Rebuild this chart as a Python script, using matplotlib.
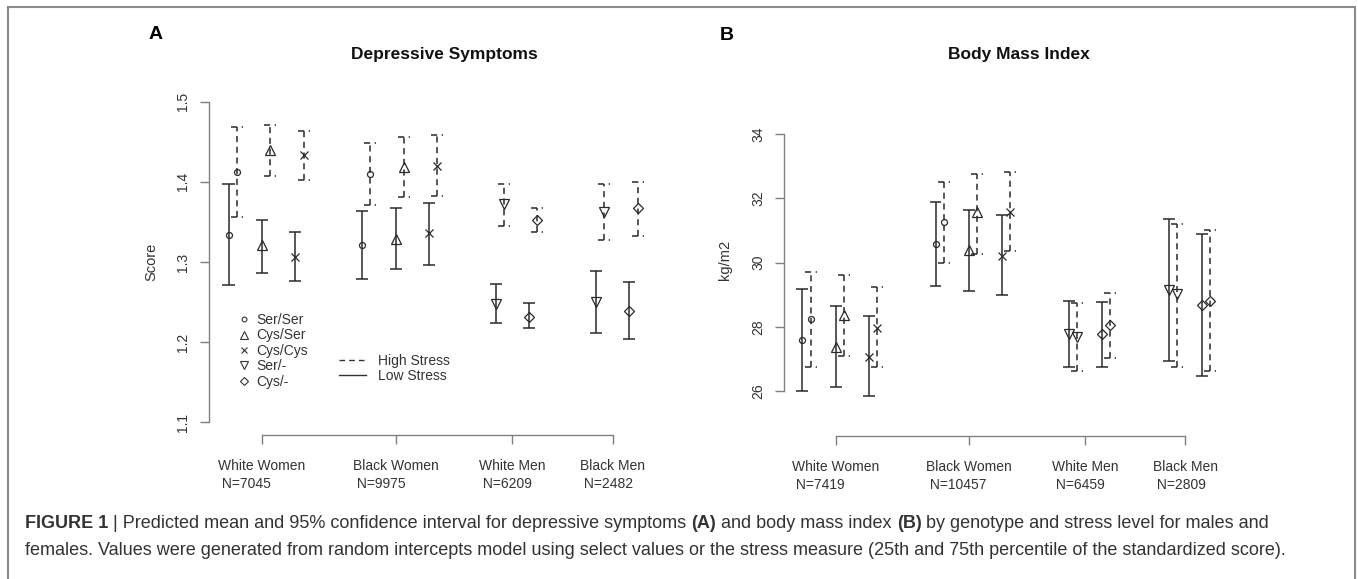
import matplotlib

matplotlib.use("Agg")

import matplotlib.pyplot as plt
from matplotlib.lines import Line2D
from matplotlib.patches import Rectangle

plt.rcParams["font.family"] = ["Liberation Sans", "DejaVu Sans"]

# ---------------------------------------------------------------------------
# Daten
# ---------------------------------------------------------------------------
GROUPS = ["White Women", "Black Women", "White Men", "Black Men"]
N_DEP = ["N=7045", "N=9975", "N=6209", "N=2482"]
N_BMI = ["N=7419", "N=10457", "N=6459", "N=2809"]
GROUP_TICKS = [2, 6, 9.5, 12.5]

GENOTYPES = ["Ser/Ser", "Cys/Ser", "Cys/Cys", "Ser/-", "Cys/-"]
BAR_GENO = ["Ser/Ser", "Cys/Ser", "Cys/Cys", "Ser/Ser", "Cys/Ser", "Cys/Cys",
            "Ser/-", "Cys/-", "Ser/-", "Cys/-"]
BAR_POS = [1, 2, 3, 5, 6, 7, 9, 10, 12, 13]

DEP_LOW_MEAN = [1.334, 1.321, 1.307, 1.321, 1.329, 1.336, 1.248, 1.232, 1.250, 1.239]
DEP_LOW_LO = [1.271, 1.287, 1.277, 1.279, 1.291, 1.297, 1.224, 1.218, 1.212, 1.204]
DEP_LOW_HI = [1.398, 1.353, 1.338, 1.364, 1.367, 1.374, 1.273, 1.249, 1.289, 1.275]
DEP_HIGH_MEAN = [1.412, 1.440, 1.433, 1.410, 1.419, 1.420, 1.372, 1.352, 1.362, 1.367]
DEP_HIGH_LO = [1.356, 1.408, 1.403, 1.371, 1.381, 1.382, 1.345, 1.338, 1.327, 1.333]
DEP_HIGH_HI = [1.468, 1.471, 1.463, 1.449, 1.456, 1.459, 1.398, 1.368, 1.397, 1.400]
DEP_YTICKS = [1.1, 1.2, 1.3, 1.4, 1.5]

BMI_LOW_MEAN = [27.60, 27.39, 27.08, 30.58, 30.40, 30.21, 27.78, 27.79, 29.16, 28.69]
BMI_LOW_LO = [26.02, 26.12, 25.84, 29.26, 29.13, 28.98, 26.74, 26.77, 26.93, 26.48]
BMI_LOW_HI = [29.18, 28.66, 28.35, 31.88, 31.64, 31.48, 28.81, 28.79, 31.36, 30.89]
BMI_HIGH_MEAN = [28.24, 28.38, 27.98, 31.25, 31.56, 31.57, 27.69, 28.05, 29.02, 28.81]
BMI_HIGH_LO = [26.77, 27.10, 26.75, 29.98, 30.27, 30.35, 26.62, 27.03, 26.77, 26.62]
BMI_HIGH_HI = [29.70, 29.62, 29.24, 32.52, 32.76, 32.83, 28.74, 29.07, 31.20, 31.02]
BMI_YTICKS = [26, 28, 30, 32, 34]

# ---------------------------------------------------------------------------
# Stil
# ---------------------------------------------------------------------------
W, H = 1358, 579
MARKERS = {"Ser/Ser": "o", "Cys/Ser": "^", "Cys/Cys": "x", "Ser/-": "v", "Cys/-": "D"}
MSIZE = {"o": 4.3, "^": 6.8, "x": 5.2, "v": 6.8, "D": 5.3}
HIGH_SHIFT = 0.25
CAP = 0.18
DASH = (0, (4, 3))
BAR_COLOR = "#2a2a2a"
AXIS_COLOR = "#808080"
TEXT_COLOR = "#333333"
FS = 10


def draw_panel(ax, low, high, yticks, ylim, xlim, groups, ns, ylabel, label_xy):
    for mean, lo, hi, shift, ls in ((*low, 0.0, "-"), (*high, HIGH_SHIFT, DASH)):
        for i, pos in enumerate(BAR_POS):
            x = pos + shift
            ax.vlines(x, lo[i], hi[i], colors=BAR_COLOR, linestyles=ls, lw=1.1)
            ax.hlines([lo[i], hi[i]], x - CAP, x + CAP, colors=BAR_COLOR,
                      linestyles=ls, lw=1.1)
            m = MARKERS[BAR_GENO[i]]
            ax.plot(x, mean[i], marker=m, ms=MSIZE[m], mfc="none", mec=BAR_COLOR,
                    mew=0.9, ls="none")

    ax.set_xlim(*xlim)
    ax.set_ylim(*ylim)
    for side in ("top", "right"):
        ax.spines[side].set_visible(False)
    for side in ("left", "bottom"):
        ax.spines[side].set_color(AXIS_COLOR)
        ax.spines[side].set_linewidth(1.0)
    ax.spines["left"].set_bounds(yticks[0], yticks[-1])
    ax.spines["bottom"].set_bounds(GROUP_TICKS[0], GROUP_TICKS[-1])

    ax.set_xticks(GROUP_TICKS)
    ax.set_xticklabels([f"{g}\n {n}" for g, n in zip(groups, ns)],
                       multialignment="left", linespacing=1.35)
    ax.set_yticks(yticks)
    ax.set_yticklabels([f"{t:g}" for t in yticks], rotation=90, va="center")
    ax.tick_params(axis="both", colors=AXIS_COLOR, labelcolor=TEXT_COLOR,
                   labelsize=FS, length=6.5, width=1.0, direction="out")
    ax.tick_params(axis="x", pad=11)
    ax.tick_params(axis="y", pad=7)
    ax.set_ylabel(ylabel, fontsize=10.5, color=TEXT_COLOR)
    ax.yaxis.set_label_coords(*label_xy)


fig = plt.figure(figsize=(W / 100, H / 100), dpi=100)
fig.patch.set_facecolor("white")

ax_a = fig.add_axes([208.5 / W, (H - 435) / H, 444.2 / W, 349.3 / H])
draw_panel(ax_a,
           (DEP_LOW_MEAN, DEP_LOW_LO, DEP_LOW_HI),
           (DEP_HIGH_MEAN, DEP_HIGH_LO, DEP_HIGH_HI),
           DEP_YTICKS, (1.0844, 1.52), (0.401, 13.7), GROUPS, N_DEP, "Score",
           ((158 - 208.5) / 444.2, (435 - 262) / 349.3))

ax_b = fig.add_axes([783.8 / W, (H - 436) / H, 441.4 / W, 311.65 / H])
draw_panel(ax_b,
           (BMI_LOW_MEAN, BMI_LOW_LO, BMI_LOW_HI),
           (BMI_HIGH_MEAN, BMI_HIGH_LO, BMI_HIGH_HI),
           BMI_YTICKS, (24.61, 34.3), (0.444, 13.7), GROUPS, N_BMI, "kg/m2",
           ((732 - 783.8) / 441.4, (436 - 260) / 311.65))

# Legenden im Panel A
geno_handles = [Line2D([], [], ls="none", marker=MARKERS[g], ms=MSIZE[MARKERS[g]] * 0.8,
                       mfc="none", mec=TEXT_COLOR, mew=0.8) for g in GENOTYPES]
leg1 = ax_a.legend(geno_handles, GENOTYPES, loc="upper left",
                   bbox_to_anchor=((238 - 208.5) / 444.2, (435 - 313) / 349.3),
                   frameon=False, fontsize=FS, handlelength=0.8, handletextpad=0.5,
                   labelspacing=0.1, borderpad=0, borderaxespad=0, labelcolor=TEXT_COLOR)
ax_a.add_artist(leg1)
stress_handles = [Line2D([], [], color=TEXT_COLOR, ls=DASH, lw=1.0),
                  Line2D([], [], color=TEXT_COLOR, ls="-", lw=1.0)]
ax_a.legend(stress_handles, ["High Stress", "Low Stress"], loc="upper left",
            bbox_to_anchor=((338.7 - 208.5) / 444.2, (435 - 353.7) / 349.3),
            frameon=False, fontsize=FS, handlelength=1.94, handletextpad=0.9,
            labelspacing=0.1, borderpad=0, borderaxespad=0, labelcolor=TEXT_COLOR)

# Titel und Panel-Buchstaben
fig.text(444 / W, 1 - 55 / H, "Depressive Symptoms", ha="center", va="center",
         fontsize=12.5, fontweight="bold", color="#111111")
fig.text(1019 / W, 1 - 55 / H, "Body Mass Index", ha="center", va="center",
         fontsize=12.5, fontweight="bold", color="#111111")
fig.text(156 / W, 1 - 34.5 / H, "A", ha="center", va="center", fontsize=14,
         fontweight="bold", color="black")
fig.text(727 / W, 1 - 36 / H, "B", ha="center", va="center", fontsize=14,
         fontweight="bold", color="black")

# Bildunterschrift
CAP_FS = 13
renderer = fig.canvas.get_renderer()


def text_width(s, weight):
    t = fig.text(0, 0, s, fontsize=CAP_FS, fontweight=weight)
    w = t.get_window_extent(renderer).width
    t.remove()
    return w


space_w = text_width("a a", "normal") - text_width("aa", "normal")
line1 = [("FIGURE 1", "bold"),
         ("| Predicted mean and 95% confidence interval for depressive symptoms", "normal"),
         ("(A)", "bold"), ("and body mass index", "normal"), ("(B)", "bold"),
         ("by genotype and stress level for males and", "normal")]
x_px = 25
for s, weight in line1:
    fig.text(x_px / W, 1 - 528 / H, s, ha="left", va="baseline", fontsize=CAP_FS,
             fontweight=weight, color=TEXT_COLOR)
    x_px += text_width(s, weight) + space_w
fig.text(25 / W, 1 - 555 / H,
         "females. Values were generated from random intercepts model using select "
         "values or the stress measure (25th and 75th percentile of the standardized score).",
         ha="left", va="baseline", fontsize=CAP_FS, color=TEXT_COLOR)

# Rahmen
fig.add_artist(Rectangle((8 / W, -0.02), (1355 - 8) / W, (H - 7) / H + 0.02,
                         transform=fig.transFigure, fill=False, edgecolor="#8a8a8a",
                         lw=1.5))

fig.savefig("out.png", dpi=100, facecolor="white")
plt.close(fig)
